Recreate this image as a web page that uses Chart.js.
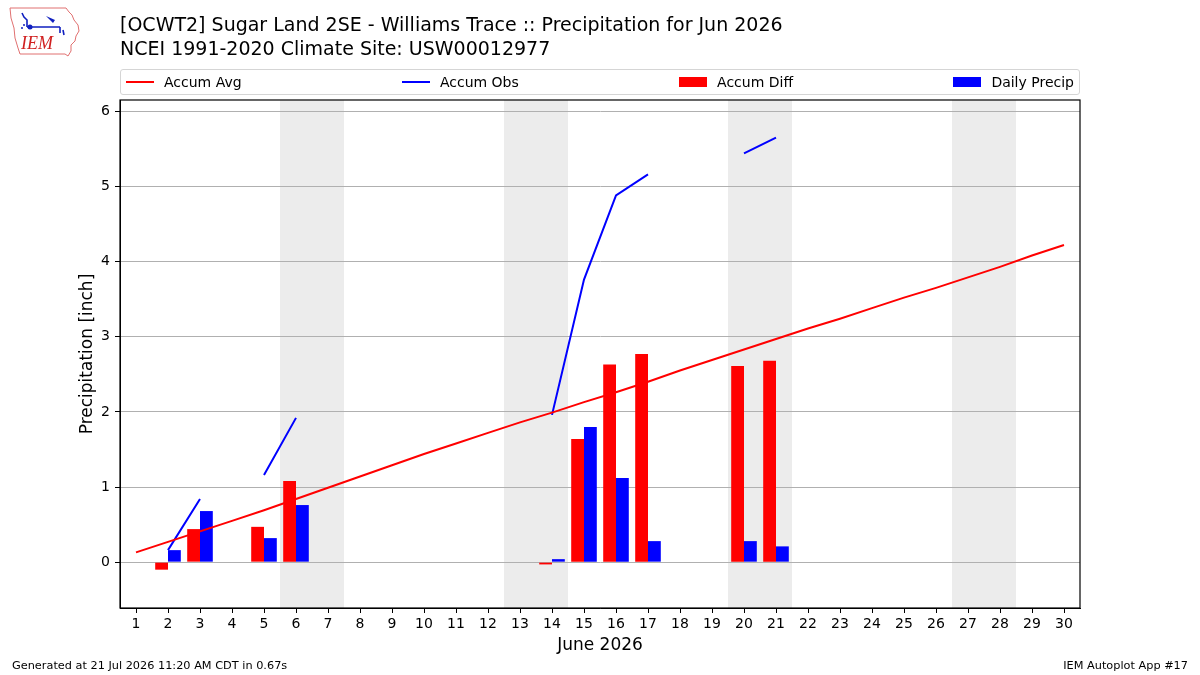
<!DOCTYPE html>
<html>
<head>
<meta charset="utf-8">
<script src="https://cdn.jsdelivr.net/npm/chart.js@4.4.1/dist/chart.umd.min.js"></script>
<style>
  body { margin: 0; background: #fff; font-family: "DejaVu Sans", sans-serif; }
  #wrap { position: relative; width: 1200px; height: 675px; overflow: hidden; }
  #chart { position: absolute; left: 0; top: 0; }
  .title { position: absolute; left: 120px; top: 12px; font-size: 19px; line-height: 24px; color: #000; white-space: nowrap; }
  .legend { position: absolute; left: 120px; top: 69px; width: 948px; height: 24px; border: 1px solid #d5d5d5; border-radius: 3px;
            display: flex; justify-content: space-between; align-items: center; padding: 0 5px; }
  .legend .item { display: flex; align-items: center; font-size: 14px; color: #000; }
  .legend .sw { width: 28px; margin-right: 10px; }
  .legend .ln { height: 2px; }
  .legend .bx { height: 10px; }
  .foot { position: absolute; top: 659px; font-size: 11.3px; line-height: 13px; white-space: nowrap; }
  #logo { position: absolute; left: 5px; top: 3px; }
</style>
</head>
<body>
<div id="wrap">
  <canvas id="chart" width="1200" height="675"></canvas>
  <svg id="logo" width="80" height="58" viewBox="0 0 80 58">
    <path d="M5 5 L61 5 L64 9 L67 12 L69 17 L73 22 L74 28 L71 33 L70 38 L66 42 L66 48 L63 53 L60 51 L15 51 L13 45 L10 35 L9 25 L6 15 Z"
          fill="none" stroke="#e07070" stroke-width="1"/>
    <path d="M17 10 L19 14 L22 17 L22 24 M22 24 L55 24 M55 24 L55 30 M58 27 L59 32" fill="none" stroke="#1020c0" stroke-width="1.6"/>
    <path d="M41 13 L50 17 L48 20 Z" fill="#1020c0"/>
    <circle cx="25" cy="24" r="2.5" fill="#1020c0"/>
    <circle cx="17" cy="25" r="1" fill="#1020c0"/>
    <circle cx="19" cy="22" r="1" fill="#1020c0"/>
    <text x="16" y="46" font-family="Liberation Serif, serif" font-style="italic" font-size="18" fill="#d02020">IEM</text>
  </svg>
  <div class="title">[OCWT2] Sugar Land 2SE - Williams Trace :: Precipitation for Jun 2026<br>NCEI 1991-2020 Climate Site: USW00012977</div>
  <div class="legend">
    <div class="item"><div class="sw ln" style="background:#ff0000"></div>Accum Avg</div>
    <div class="item"><div class="sw ln" style="background:#0000ff"></div>Accum Obs</div>
    <div class="item"><div class="sw bx" style="background:#ff0000"></div>Accum Diff</div>
    <div class="item"><div class="sw bx" style="background:#0000ff"></div>Daily Precip</div>
  </div>
  <div class="foot" style="left:12px;">Generated at 21 Jul 2026 11:20 AM CDT in 0.67s</div>
  <div class="foot" style="right:12px;">IEM Autoplot App #17</div>
</div>
<script>
// Days of the month (x categories)
const days = ['1','2','3','4','5','6','7','8','9','10','11','12','13','14','15',
              '16','17','18','19','20','21','22','23','24','25','26','27','28','29','30'];

// Climatology accumulated average [inch]
const accumAvg = [0.13, 0.27, 0.41, 0.55, 0.69, 0.84, 0.99, 1.14, 1.29, 1.44,
                  1.58, 1.72, 1.86, 1.99, 2.13, 2.26, 2.40, 2.55, 2.69, 2.83,
                  2.97, 3.11, 3.24, 3.38, 3.52, 3.65, 3.79, 3.93, 4.08, 4.22];

// Observed accumulation (null = missing)
const accumObs = [null, 0.16, 0.84, null, 1.16, 1.92, null, null, null, null,
                  null, null, null, 1.96, 3.76, 4.88, 5.16, null, null, 5.44,
                  5.65, null, null, null, null, null, null, null, null, null];

// Observed minus average
const accumDiff = [null, -0.10, 0.44, null, 0.47, 1.08, null, null, null, null,
                   null, null, null, -0.03, 1.64, 2.63, 2.77, null, null, 2.61,
                   2.68, null, null, null, null, null, null, null, null, null];

// Daily precipitation
const dailyPrecip = [null, 0.16, 0.68, null, 0.32, 0.76, null, null, null, null,
                     null, null, null, 0.04, 1.80, 1.12, 0.28, null, null, 0.28,
                     0.21, null, null, null, null, null, null, null, null, null];

// Weekend spans (first day of each Sat/Sun pair)
const weekendStarts = ['6', '13', '20', '27'];

const yTicks = [0, 1, 2, 3, 4, 5, 6];

// Shade weekends behind the grid
const weekendPlugin = {
  id: 'weekends',
  beforeDraw(chart) {
    const { ctx, chartArea, scales } = chart;
    const x = scales.x;
    const half = (x.getPixelForValue(1) - x.getPixelForValue(0)) / 2;
    ctx.save();
    ctx.fillStyle = '#ececec';
    weekendStarts.forEach(d => {
      const i = days.indexOf(d);
      const x0 = x.getPixelForValue(i) - half;
      const x1 = x.getPixelForValue(i + 1) + half;
      ctx.fillRect(x0, chartArea.top, x1 - x0, chartArea.bottom - chartArea.top);
    });
    ctx.restore();
  }
};

// Full black frame around the axes
const framePlugin = {
  id: 'frame',
  afterDraw(chart) {
    const { ctx, chartArea } = chart;
    ctx.save();
    ctx.strokeStyle = '#000';
    ctx.lineWidth = 1.2;
    ctx.strokeRect(chartArea.left, chartArea.top, chartArea.right - chartArea.left, chartArea.bottom - chartArea.top);
    ctx.restore();
  }
};

new Chart(document.getElementById('chart'), {
  data: {
    labels: days,
    datasets: [
      { type: 'line', label: 'Accum Avg', data: accumAvg, borderColor: '#ff0000', borderWidth: 2,
        pointRadius: 0, tension: 0, order: 0 },
      { type: 'line', label: 'Accum Obs', data: accumObs, borderColor: '#0000ff', borderWidth: 2,
        pointRadius: 0, tension: 0, spanGaps: false, order: 0 },
      { type: 'bar', label: 'Accum Diff', data: accumDiff, backgroundColor: '#ff0000',
        categoryPercentage: 0.8, barPercentage: 1.0, order: 1 },
      { type: 'bar', label: 'Daily Precip', data: dailyPrecip, backgroundColor: '#0000ff',
        categoryPercentage: 0.8, barPercentage: 1.0, order: 1 }
    ]
  },
  options: {
    responsive: false,
    animation: false,
    devicePixelRatio: 1,
    layout: { padding: { left: 73, top: 100, right: 120, bottom: 15 } },
    plugins: { legend: { display: false }, tooltip: { enabled: false } },
    scales: {
      x: {
        type: 'category',
        offset: true,
        afterFit: s => { s.height = 52; },
        grid: { drawOnChartArea: false, offset: false, tickLength: 5, tickColor: '#000' },
        border: { display: true, color: '#000' },
        ticks: { color: '#000', font: { family: 'DejaVu Sans', size: 14 }, padding: 3, maxRotation: 0, autoSkip: false },
        title: { display: true, text: 'June 2026', color: '#000', font: { family: 'DejaVu Sans', size: 17 } }
      },
      y: {
        type: 'linear',
        min: -0.61,
        max: 6.15,
        afterFit: s => { s.width = 47; },
        afterBuildTicks: s => { s.ticks = yTicks.map(v => ({ value: v })); },
        grid: { color: '#b0b0b0', lineWidth: 1, tickLength: 5, tickColor: '#000' },
        border: { display: true, color: '#000' },
        ticks: { color: '#000', font: { family: 'DejaVu Sans', size: 14 }, padding: 5 },
        title: { display: true, text: 'Precipitation [inch]', color: '#000', font: { family: 'DejaVu Sans', size: 17 } }
      }
    }
  },
  plugins: [weekendPlugin, framePlugin]
});
</script>
</body>
</html>
